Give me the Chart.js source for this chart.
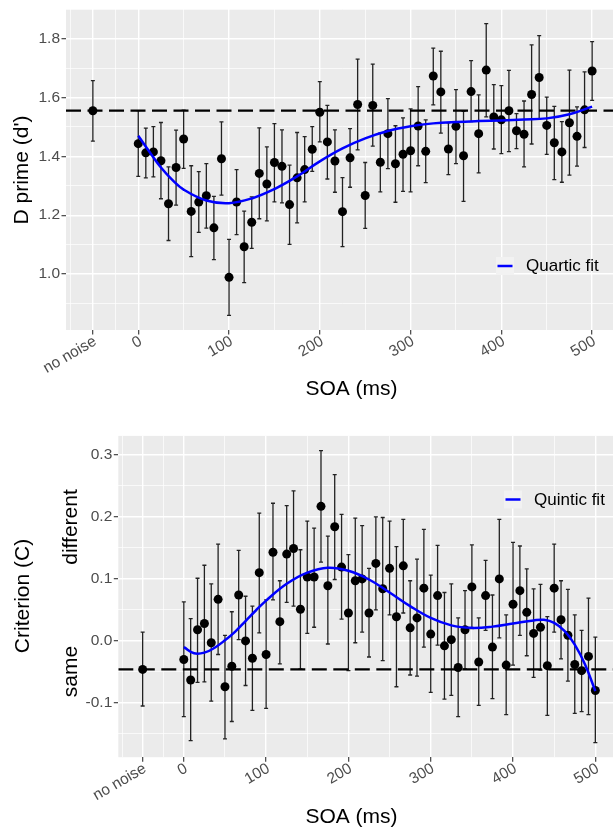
<!DOCTYPE html>
<html>
<head>
<meta charset="utf-8">
<script src="https://cdn.jsdelivr.net/npm/chart.js@4.4.1/dist/chart.umd.min.js"></script>
<style>
  html, body { margin: 0; padding: 0; background: #fff; overflow: hidden; width: 613px; height: 831px; }
  canvas { position: absolute; left: 0; }
  #dprimeChart { top: 0; }
  #criterionChart { top: 410px; }
</style>
</head>
<body>
<canvas id="dprimeChart" width="630" height="410"></canvas>
<canvas id="criterionChart" width="630" height="421"></canvas>
<script>
// SOA steps (ms), one frame at 120 Hz
const soa = [0, 8.33, 16.67, 25, 33.33, 41.67, 50, 58.33, 66.67, 75, 83.33, 91.67,
  100, 108.33, 116.67, 125, 133.33, 141.67, 150, 158.33, 166.67, 175, 183.33, 191.67,
  200, 208.33, 216.67, 225, 233.33, 241.67, 250, 258.33, 266.67, 275, 283.33, 291.67,
  300, 308.33, 316.67, 325, 333.33, 341.67, 350, 358.33, 366.67, 375, 383.33, 391.67,
  400, 408.33, 416.67, 425, 433.33, 441.67, 450, 458.33, 466.67, 475, 483.33, 491.67, 500];

const noNoiseX = -50;

// top panel: d'
const dprime = [1.443, 1.412, 1.415, 1.385, 1.239, 1.362, 1.459, 1.213, 1.245, 1.266, 1.157, 1.392,
  0.989, 1.245, 1.093, 1.176, 1.342, 1.306, 1.379, 1.366, 1.236, 1.327, 1.355, 1.424,
  1.550, 1.449, 1.384, 1.212, 1.395, 1.576, 1.267, 1.573, 1.380, 1.477, 1.375, 1.407,
  1.419, 1.503, 1.417, 1.673, 1.619, 1.425, 1.502, 1.402, 1.620, 1.477, 1.693, 1.534,
  1.524, 1.555, 1.487, 1.475, 1.610, 1.668, 1.505, 1.446, 1.415, 1.514, 1.468, 1.558, 1.690];
const dprimeLo = [1.332, 1.327, 1.330, 1.256, 1.114, 1.234, 1.359, 1.059, 1.142, 1.156, 1.049, 1.268,
  0.860, 1.134, 0.971, 1.087, 1.188, 1.181, 1.245, 1.242, 1.101, 1.174, 1.245, 1.349,
  1.449, 1.323, 1.278, 1.093, 1.295, 1.422, 1.155, 1.435, 1.279, 1.358, 1.244, 1.281,
  1.279, 1.368, 1.311, 1.575, 1.479, 1.338, 1.375, 1.247, 1.518, 1.344, 1.534, 1.425,
  1.409, 1.416, 1.426, 1.364, 1.442, 1.527, 1.407, 1.321, 1.312, 1.336, 1.367, 1.430, 1.590];
const dprimeHi = [1.555, 1.496, 1.501, 1.515, 1.364, 1.489, 1.557, 1.368, 1.348, 1.375, 1.264, 1.517,
  1.118, 1.355, 1.214, 1.262, 1.497, 1.432, 1.511, 1.490, 1.370, 1.481, 1.467, 1.501,
  1.654, 1.573, 1.490, 1.328, 1.494, 1.730, 1.379, 1.713, 1.480, 1.596, 1.504, 1.531,
  1.561, 1.637, 1.524, 1.768, 1.757, 1.514, 1.627, 1.553, 1.725, 1.609, 1.851, 1.644,
  1.640, 1.692, 1.545, 1.588, 1.779, 1.810, 1.601, 1.570, 1.518, 1.693, 1.568, 1.687, 1.790];
const dprimeNoNoise = [1.555, 1.452, 1.657]; // mean, lo, hi

const quarticX = [0, 12.5, 25, 37.5, 50, 75, 100, 125, 150, 175, 200, 225, 250, 275, 300,
  325, 350, 375, 400, 425, 450, 475, 500];
const quarticY = [1.470, 1.415, 1.362, 1.320, 1.287, 1.250, 1.241, 1.257, 1.289, 1.332, 1.383,
  1.427, 1.461, 1.486, 1.502, 1.512, 1.517, 1.520, 1.522, 1.525, 1.529, 1.543, 1.569];

// bottom panel: criterion c
const criterion = [-0.031, -0.064, 0.017, 0.027, -0.004, 0.066, -0.075, -0.042, 0.073, -0.001, -0.029, 0.109,
  -0.023, 0.142, 0.030, 0.139, 0.148, 0.050, 0.102, 0.102, 0.216, 0.088, 0.183, 0.118,
  0.044, 0.096, 0.099, 0.044, 0.124, 0.083, 0.116, 0.038, 0.120, 0.020, 0.036, 0.084,
  0.010, 0.072, -0.009, 0.001, -0.044, 0.017, 0.086, -0.035, 0.072, -0.011, 0.099, -0.040,
  0.058, 0.080, 0.045, 0.011, 0.021, -0.041, 0.084, 0.033, 0.008, -0.039, -0.049, -0.026, -0.081];
const criterionHi = [0.062, 0.035, 0.100, 0.121, 0.091, 0.155, 0.008, 0.046, 0.145, 0.071, 0.055, 0.205,
  0.065, 0.221, 0.096, 0.217, 0.241, 0.146, 0.192, 0.181, 0.306, 0.168, 0.267, 0.203,
  0.138, 0.197, 0.185, 0.116, 0.199, 0.198, 0.192, 0.151, 0.195, 0.096, 0.131, 0.179,
  0.105, 0.153, 0.077, 0.091, 0.036, 0.080, 0.154, 0.036, 0.129, 0.073, 0.195, 0.041,
  0.158, 0.152, 0.115, 0.083, 0.090, 0.038, 0.155, 0.096, 0.082, 0.041, 0.016, 0.068, 0.005];
const criterionLo = [-0.123, -0.162, -0.068, -0.067, -0.098, -0.023, -0.159, -0.131, 0.001, -0.073, -0.113, 0.012,
  -0.110, 0.065, -0.038, 0.061, 0.055, -0.046, 0.011, 0.021, 0.126, -0.006, 0.098, 0.034,
  -0.049, -0.004, 0.013, -0.027, 0.049, -0.033, 0.041, -0.075, 0.044, -0.056, -0.058, -0.011,
  -0.084, -0.008, -0.095, -0.089, -0.123, -0.046, 0.019, -0.105, 0.016, -0.094, 0.004, -0.120,
  -0.040, 0.008, -0.025, -0.060, -0.048, -0.121, 0.013, -0.030, -0.066, -0.118, -0.115, -0.120, -0.165];
const criterionNoNoise = [-0.047, -0.106, 0.013];

const quinticX = [0, 12.5, 25, 37.5, 50, 62.5, 75, 87.5, 100, 125, 150, 175, 200, 225, 250, 275,
  300, 325, 350, 375, 400, 425, 437.5, 450, 462.5, 475, 487.5, 500];
const quinticY = [-0.011, -0.021, -0.020, -0.012, 0.000, 0.014, 0.031, 0.048, 0.064, 0.091, 0.109, 0.117,
  0.112, 0.098, 0.077, 0.055, 0.036, 0.024, 0.020, 0.022, 0.027, 0.032, 0.033, 0.028, 0.015, -0.007,
  -0.039, -0.082];

// axes
const xTicks = [-50, 0, 100, 200, 300, 400, 500];
const xTickLabels = ["no noise", "0", "100", "200", "300", "400", "500"];
const xMinor = [-75, -25, 50, 150, 250, 350, 450];
const dTicks = [1.0, 1.2, 1.4, 1.6, 1.8];
const dMinor = [0.9, 1.1, 1.3, 1.5, 1.7, 1.9];
const cTicks = [-0.1, 0.0, 0.1, 0.2, 0.3];
const cMinor = [-0.15, -0.05, 0.05, 0.15, 0.25];

const FONT = '"Liberation Sans", Arial, sans-serif';
const X_MIN = -79.6, X_MAX = 529.6;

function has(list, v) {
  return list.some(t => Math.abs(t - v) < 1e-6);
}

function gridFor(majors) {
  return {
    color: '#FFFFFF',
    lineWidth: c => has(majors, c.tick.value) ? 1.4 : 0.7,
    tickColor: c => has(majors, c.tick.value) ? '#333333' : 'rgba(0,0,0,0)',
    tickWidth: 1.1,
    tickLength: 4.5,
    drawTicks: true
  };
}

function txt(ctx, s, x, y, size, color, rot) {
  ctx.save();
  ctx.translate(x, y);
  if (rot) ctx.rotate(rot);
  ctx.font = size + 'px ' + FONT;
  ctx.fillStyle = color;
  ctx.textAlign = 'center';
  ctx.textBaseline = 'middle';
  ctx.fillText(s, 0, 0);
  ctx.restore();
}

function panelPlugin(cfg) {
  return {
    id: 'panel_' + cfg.name,
    beforeDraw(chart) {
      const a = chart.chartArea, ctx = chart.ctx;
      ctx.save();
      ctx.fillStyle = '#EBEBEB';
      ctx.fillRect(a.left, a.top, a.right - a.left, a.bottom - a.top);
      ctx.restore();
    },
    beforeDatasetsDraw(chart) {
      const a = chart.chartArea, ctx = chart.ctx;
      const xs = chart.scales.x, ys = chart.scales.y;
      ctx.save();
      ctx.beginPath();
      ctx.rect(a.left, a.top, a.right - a.left, a.bottom - a.top);
      ctx.clip();
      ctx.strokeStyle = '#222222';
      ctx.lineWidth = 1.3;
      cfg.errX.forEach((x, i) => {
        const px = xs.getPixelForValue(x);
        const p1 = ys.getPixelForValue(cfg.errLo[i]);
        const p2 = ys.getPixelForValue(cfg.errHi[i]);
        ctx.beginPath();
        ctx.moveTo(px, p1); ctx.lineTo(px, p2);
        ctx.moveTo(px - 2, p1); ctx.lineTo(px + 2, p1);
        ctx.moveTo(px - 2, p2); ctx.lineTo(px + 2, p2);
        ctx.stroke();
      });
      ctx.restore();
    },
    afterDatasetsDraw(chart) {
      // legend inside the panel
      const ctx = chart.ctx, L = cfg.legend;
      ctx.save();
      ctx.fillStyle = '#F2F2F2';
      ctx.fillRect(L.x, L.y, 18, 18);
      ctx.strokeStyle = '#0000FF';
      ctx.lineWidth = 2.5;
      ctx.beginPath();
      ctx.moveTo(L.x + 1.5, L.y + 9); ctx.lineTo(L.x + 16.5, L.y + 9);
      ctx.stroke();
      ctx.font = '17px ' + FONT;
      ctx.fillStyle = '#000';
      ctx.textAlign = 'left';
      ctx.textBaseline = 'middle';
      ctx.fillText(L.label, L.x + 30, L.y + 9.5);
      ctx.restore();
    },
    afterDraw(chart) {
      const a = chart.chartArea, ctx = chart.ctx, xs = chart.scales.x;
      // rotated x tick labels
      xTicks.forEach((v, i) => {
        const px = xs.getPixelForValue(v);
        ctx.save();
        ctx.translate(px + 4.6, a.bottom + 14);
        ctx.rotate(-Math.PI / 6);
        ctx.font = '15.5px ' + FONT;
        ctx.fillStyle = '#4D4D4D';
        ctx.textAlign = 'right';
        ctx.textBaseline = 'alphabetic';
        ctx.fillText(xTickLabels[i], 0, 0);
        ctx.restore();
      });
      cfg.titles.forEach(t => txt(ctx, t.text, t.x, t.y, 21, '#000', t.rot));
    }
  };
}

function makeChart(id, cfg) {
  const ptsX = [noNoiseX].concat(soa);
  const pts = ptsX.map((x, i) => ({ x: x, y: cfg.y[i] }));
  const fit = cfg.fitX.map((x, i) => ({ x: x, y: cfg.fitY[i] }));
  const refLine = [{ x: X_MIN, y: cfg.y[0] }, { x: X_MAX, y: cfg.y[0] }];

  return new Chart(document.getElementById(id), {
    type: 'scatter',
    data: {
      datasets: [
        {
          type: 'line', data: fit, order: 0,
          borderColor: '#0000FF', borderWidth: 2.5,
          pointRadius: 0, tension: 0.4, fill: false
        },
        {
          type: 'scatter', data: pts, order: 1,
          pointRadius: 4.5, pointBackgroundColor: '#000', pointBorderColor: '#000', pointBorderWidth: 0
        },
        {
          type: 'line', data: refLine, order: 2,
          borderColor: '#000', borderWidth: 2.2, borderDash: [15, 6.5],
          pointRadius: 0, fill: false
        }
      ]
    },
    options: {
      responsive: false,
      animation: false,
      events: [],
      devicePixelRatio: 1,
      layout: { padding: { left: 0, top: cfg.top, right: 630 - cfg.right, bottom: 0 } },
      plugins: { legend: { display: false }, tooltip: { enabled: false } },
      scales: {
        x: {
          type: 'linear', min: X_MIN, max: X_MAX,
          border: { display: false },
          grid: gridFor(xTicks),
          ticks: { display: false },
          afterBuildTicks: s => { s.ticks = xTicks.concat(xMinor).sort((p, q) => p - q).map(v => ({ value: v })); },
          afterFit: s => { s.height = cfg.xHeight; s.paddingLeft = 0; s.paddingRight = 0; }
        },
        y: {
          type: 'linear', min: cfg.yMin, max: cfg.yMax,
          border: { display: false },
          grid: gridFor(cfg.yTicks),
          ticks: {
            color: '#4D4D4D', padding: 1.5,
            font: { family: FONT, size: 15.5 },
            callback: v => has(cfg.yTicks, v) ? v.toFixed(1) : ''
          },
          afterBuildTicks: s => { s.ticks = cfg.yTicks.concat(cfg.yMinor).sort((p, q) => p - q).map(v => ({ value: v })); },
          afterFit: s => { s.width = cfg.yWidth; s.paddingTop = 0; s.paddingBottom = 0; }
        }
      }
    },
    plugins: [panelPlugin(cfg)]
  });
}

makeChart('dprimeChart', {
  name: 'dprime',
  y: [dprimeNoNoise[0]].concat(dprime),
  errX: [noNoiseX].concat(soa),
  errLo: [dprimeNoNoise[1]].concat(dprimeLo),
  errHi: [dprimeNoNoise[2]].concat(dprimeHi),
  fitX: quarticX, fitY: quarticY,
  yMin: 0.810, yMax: 1.9006, yTicks: dTicks, yMinor: dMinor,
  top: 9, right: 619, xHeight: 80, yWidth: 66,
  legend: { x: 496, y: 257, label: 'Quartic fit' },
  titles: [
    { text: "D prime (d')", x: 22.5, y: 170, rot: -Math.PI / 2 },
    { text: 'SOA (ms)', x: 351.5, y: 389 }
  ]
});

makeChart('criterionChart', {
  name: 'criterion',
  y: [criterionNoNoise[0]].concat(criterion),
  errX: [noNoiseX].concat(soa),
  errLo: [criterionNoNoise[1]].concat(criterionLo),
  errHi: [criterionNoNoise[2]].concat(criterionHi),
  fitX: quinticX, fitY: quinticY,
  yMin: -0.1886, yMax: 0.3296, yTicks: cTicks, yMinor: cMinor,
  top: 25.9, right: 619.7, xHeight: 73.8, yWidth: 118.3,
  legend: { x: 504, y: 80.5, label: 'Quintic fit' },
  titles: [
    { text: 'Criterion (C)', x: 23.5, y: 186, rot: -Math.PI / 2 },
    { text: 'different', x: 71.5, y: 117, rot: -Math.PI / 2 },
    { text: 'same', x: 71.5, y: 261.5, rot: -Math.PI / 2 },
    { text: 'SOA (ms)', x: 351.5, y: 407 }
  ]
});
</script>
</body>
</html>
